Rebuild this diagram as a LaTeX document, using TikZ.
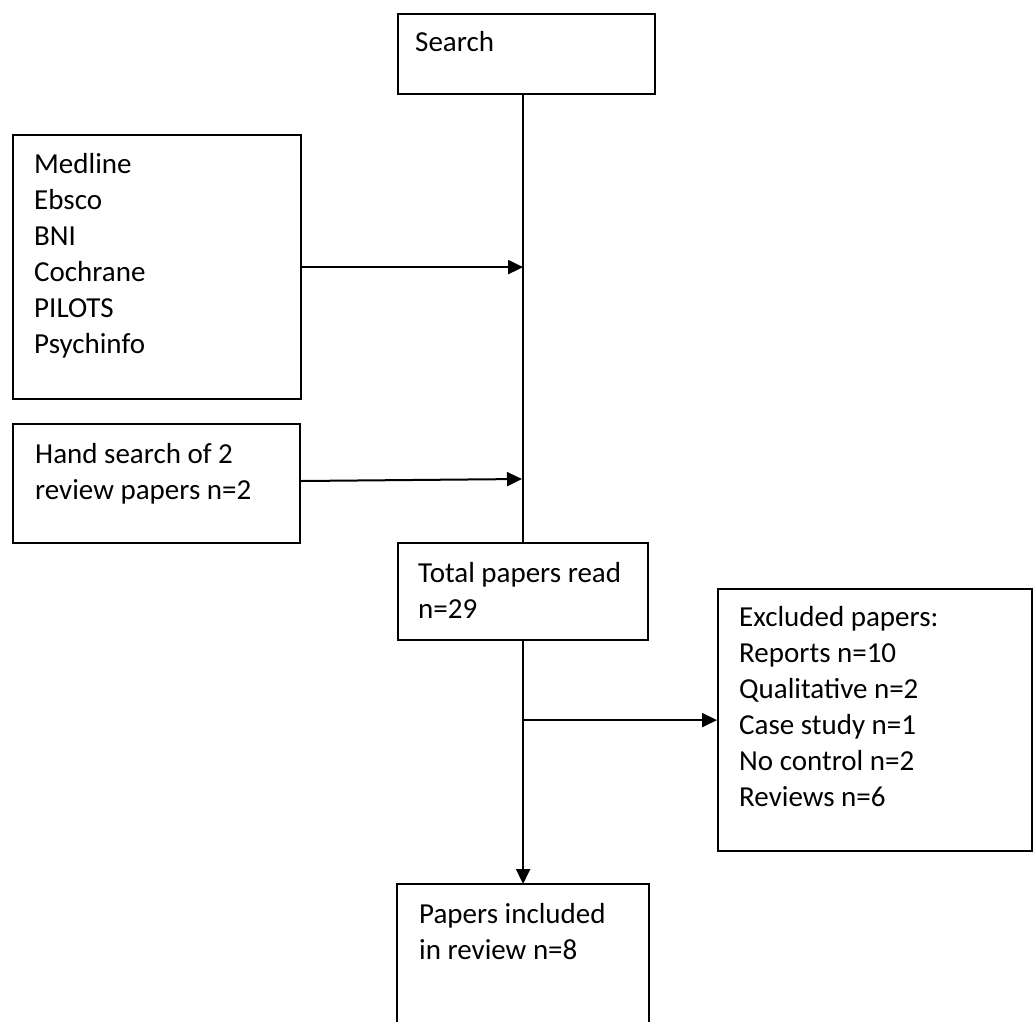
\documentclass[tikz,border=0pt]{standalone}
\usepackage{fontspec}
\setmainfont{Carlito}
\usetikzlibrary{arrows.meta}
\begin{document}
\begin{tikzpicture}[x=1pt,y=-1pt,
  box/.style={draw, line width=2.2pt, rectangle, inner sep=0pt, anchor=north west},
  txt/.style={anchor=base west, inner sep=0pt, font=\fontsize{29}{36}\selectfont},
  link/.style={line width=2pt},
  arr/.style={line width=2pt, -{Triangle[length=15pt,width=14pt]}}]
\useasboundingbox (0,0) rectangle (1033,1021);

% boxes
\node[box, minimum width=257pt, minimum height=80pt]  (search) at (397,13)  {};
\node[box, minimum width=288pt, minimum height=264pt] (med)    at (12,134)  {};
\node[box, minimum width=287pt, minimum height=119pt] (hand)   at (12,423)  {};
\node[box, minimum width=250pt, minimum height=97pt]  (total)  at (397,542) {};
\node[box, minimum width=314pt, minimum height=262pt] (excl)   at (717,588) {};
\node[box, draw=none, minimum width=250pt, minimum height=137pt] (incl) at (397,884) {};
\draw[line width=2.2pt] (incl.south west) -- (incl.north west) -- (incl.north east) -- (incl.south east);

% texts
\node[txt] (searchtxt) at (415,51) {Search};
\node[txt] (medtxt) at (34,173) {\parbox[t]{250pt}{Medline\\Ebsco\\BNI\\Cochrane\\PILOTS\\Psychinfo}};
\node[txt] (handtxt) at (35,463) {\parbox[t]{260pt}{Hand search of 2\\review papers n=2}};
\node[txt] (totaltxt) at (418,582) {\parbox[t]{228pt}{Total papers read\\n=29}};
\node[txt] (excltxt) at (739,626) {\parbox[t]{290pt}{Excluded papers:\\Reports n=10\\Qualitative n=2\\Case study n=1\\No control n=2\\Reviews n=6}};
\node[txt] (incltxt) at (419,923) {\parbox[t]{228pt}{Papers included\\in review n=8}};

% connectors
\coordinate (split) at (total.south |- excl.west);
\draw[link] (total.north |- search.south) -- (total.north);
\draw[arr] (med.east) -- (med.east -| total.north);
\coordinate (handjoin) at (522,479);
\draw[arr] (hand.east |- 0,481) -- (handjoin);
\draw[arr] (total.south) -- (incl.north);
\draw[arr] (split) -- (excl.west);
\end{tikzpicture}
\end{document}
